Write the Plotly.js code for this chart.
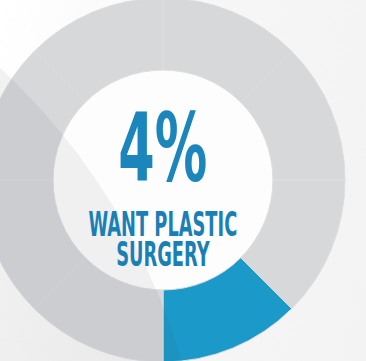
<!DOCTYPE html>
<html>
<head>
<meta charset="utf-8">
<script src="https://cdn.plot.ly/plotly-3.0.1.min.js"></script>
<style>
  html, body { margin: 0; padding: 0; width: 366px; height: 361px; overflow: hidden;
    background: linear-gradient(100deg, #ffffff 0%, #f7f7f7 45%, #f3f3f3 100%); }
  #chart { position: absolute; left: -19px; top: -2px; }
</style>
</head>
<body>
<div id="chart"></div>
<script>
// ---- data ----
const segmentLabels = ['Seg 1', 'Seg 2', 'Seg 3', 'Want plastic surgery', 'Seg 5', 'Seg 6', 'Seg 7', 'Seg 8'];
const segmentValues = [1, 1, 1, 1, 1, 1, 1, 1];
const highlightLabel = 'Want plastic surgery';
const headlineText = '4%';
const captionLines = ['WANT PLASTIC', 'SURGERY'];

// ---- styling ----
const BLUE = '#1b9ac9';
const GRAY = '#d7d8da';
const TEXT_BLUE = '#1a86bb';
const CAPTION_BLUE = '#1a7fb5';
const FONT = 'DejaVu Sans Condensed, DejaVu Sans, sans-serif';
const W = 385, H = 364;           // plot box (offset by -19,-2 on page)
const px = X => (X + 19) / W;      // page px -> paper x
const py = Y => 1 - (Y + 2) / H;   // page px -> paper y

const colors = segmentLabels.map(l => l === highlightLabel ? BLUE : GRAY);

const trace = {
  type: 'pie',
  labels: segmentLabels,
  values: segmentValues,
  sort: false,
  direction: 'clockwise',
  rotation: 0,
  hole: 0.604,
  textinfo: 'none',
  hoverinfo: 'none',
  showlegend: false,
  marker: { colors: colors, line: { color: '#dddee0', width: 1 } },
  domain: { x: [0, 364 / W], y: [0, 1] }
};

const layout = {
  width: W, height: H,
  margin: { l: 0, r: 0, t: 0, b: 0 },
  paper_bgcolor: 'rgba(0,0,0,0)',
  plot_bgcolor: 'rgba(0,0,0,0)',
  showlegend: false,
  shapes: [
    // white centre of the donut
    { type: 'circle', xref: 'paper', yref: 'paper', layer: 'below',
      x0: px(53), x1: px(273), y0: py(290), y1: py(70),
      fillcolor: '#fdfdfd', line: { width: 0 } },
    // faint globe in the background
    { type: 'circle', xref: 'paper', yref: 'paper', layer: 'above',
      x0: px(-1099), x1: px(209), y0: py(1201), y1: py(-107),
      fillcolor: 'rgba(60,60,70,0.065)', line: { width: 0 } }
  ],
  annotations: [
    { text: headlineText, xref: 'paper', yref: 'paper', x: px(163), y: py(148),
      xanchor: 'center', yanchor: 'middle', showarrow: false,
      font: { family: FONT, size: 94, weight: 700, color: TEXT_BLUE } },
    { text: captionLines.join('<br>'), xref: 'paper', yref: 'paper', x: px(163), y: py(202.5),
      xanchor: 'center', yanchor: 'top', showarrow: false,
      font: { family: FONT, size: 33, weight: 700, color: CAPTION_BLUE } }
  ]
};

Plotly.newPlot('chart', [trace], layout, { displayModeBar: false, staticPlot: true }).then(() => {
  document.querySelectorAll('text.annotation-text').forEach((t, i) => {
    t.style.transformBox = 'fill-box';
    t.style.transformOrigin = 'center';
    t.style.transform = i === 0 ? 'scaleX(0.62)' : 'scaleX(0.6)';
    // tighten line spacing of the caption (condensed display type)
    t.querySelectorAll('tspan.line').forEach(ts => {
      const dy = ts.getAttribute('dy');
      if (dy && dy.endsWith('em')) {
        const v = parseFloat(dy);
        ts.setAttribute('dy', (v * 0.92 / 1.3) + 'em');
      }
    });
  });
});
</script>
</body>
</html>
